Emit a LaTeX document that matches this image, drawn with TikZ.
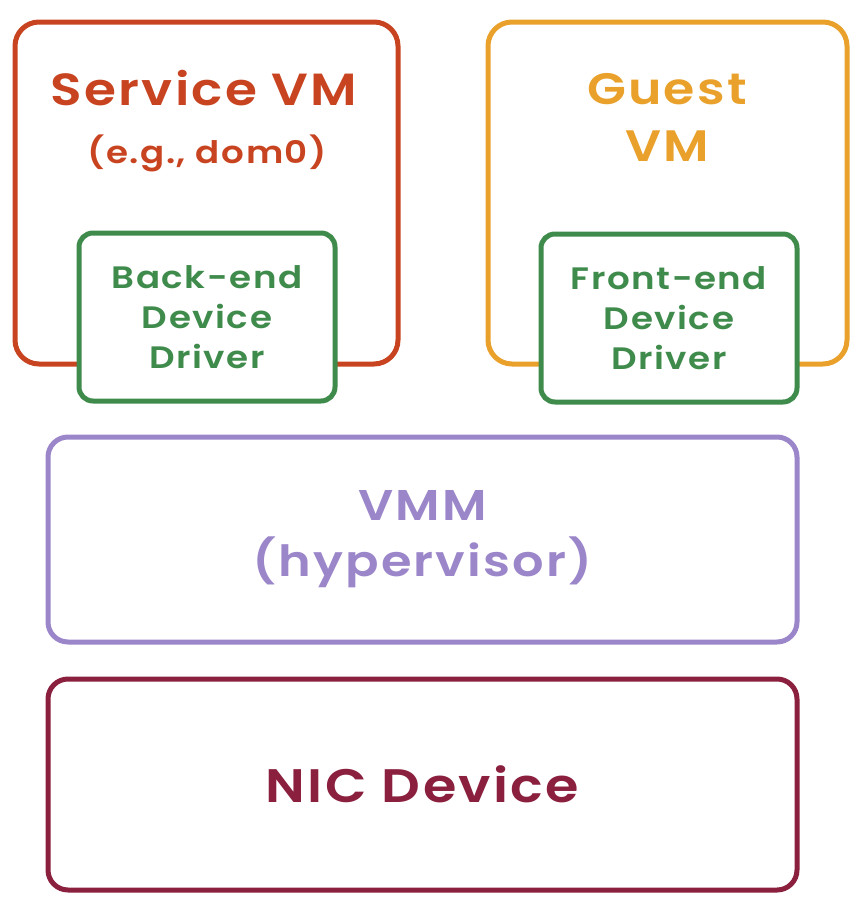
\documentclass[tikz,border=0pt]{standalone}
\usepackage{fontspec}
\setmainfont{Poppins}[BoldFont={* SemiBold}, FakeStretch=1.15, LetterSpace=5]
\usetikzlibrary{positioning}

\definecolor{servicered}{HTML}{C8431F}
\definecolor{guestorange}{HTML}{E9A12C}
\definecolor{drivergreen}{HTML}{3F8B4C}
\definecolor{vmmpurple}{HTML}{9B86CA}
\definecolor{nicmaroon}{HTML}{8A1F3E}

\tikzset{
  vmbox/.style={draw, line width=5pt, rounded corners=24pt, inner sep=0pt},
  drvbox/.style={draw=drivergreen, fill=white, line width=5pt, rounded corners=14pt,
    inner sep=0pt, text=drivergreen, align=center,
    font=\bfseries\fontsize{31}{40}\selectfont},
  bigtext/.style={font=\bfseries\fontsize{45}{57}\selectfont, align=center},
  smalltext/.style={font=\bfseries\fontsize{31}{38}\selectfont, align=center}
}

\begin{document}
\begin{tikzpicture}[x=1pt, y=-1pt]
  \useasboundingbox (0,0) rectangle (864,910);

  % Service VM (left) with its back-end driver
  \node[vmbox, draw=servicered, minimum width=383pt, minimum height=342pt] (service) at (206.5,193) {};
  \node[bigtext, text=servicered] (servicetitle) at (204,88) {Service VM};
  \node[smalltext, text=servicered] (servicesub) at (207,153) {(e.g., dom0)};
  \node[drvbox, minimum width=256pt, minimum height=168pt] (backend) at (207,317) {Back-end\\Device\\Driver};

  % Guest VM (right) with its front-end driver
  \node[vmbox, draw=guestorange, minimum width=359pt, minimum height=342pt] (guest) at (667.5,193) {};
  \node[bigtext, text=guestorange, font=\bfseries\fontsize{44}{57}\selectfont] (guesttitle) at (667,117) {Guest\\VM};
  \node[drvbox, minimum width=256pt, minimum height=168pt] (frontend) at (669,318) {Front-end\\Device\\Driver};

  % VMM layer
  \node[vmbox, draw=vmmpurple, text=vmmpurple, bigtext, font=\bfseries\fontsize{43}{56}\selectfont,
    rounded corners=20pt, minimum width=749pt, minimum height=205pt] (vmm) at (422.5,539.5) {VMM\\(hypervisor)};

  % NIC hardware
  \node[vmbox, draw=nicmaroon, text=nicmaroon, bigtext, font=\bfseries\fontsize{47}{56}\selectfont,
    rounded corners=20pt, minimum width=749pt, minimum height=211pt] (nic) at (422.5,784.5) {NIC Device};

\end{tikzpicture}
\end{document}
